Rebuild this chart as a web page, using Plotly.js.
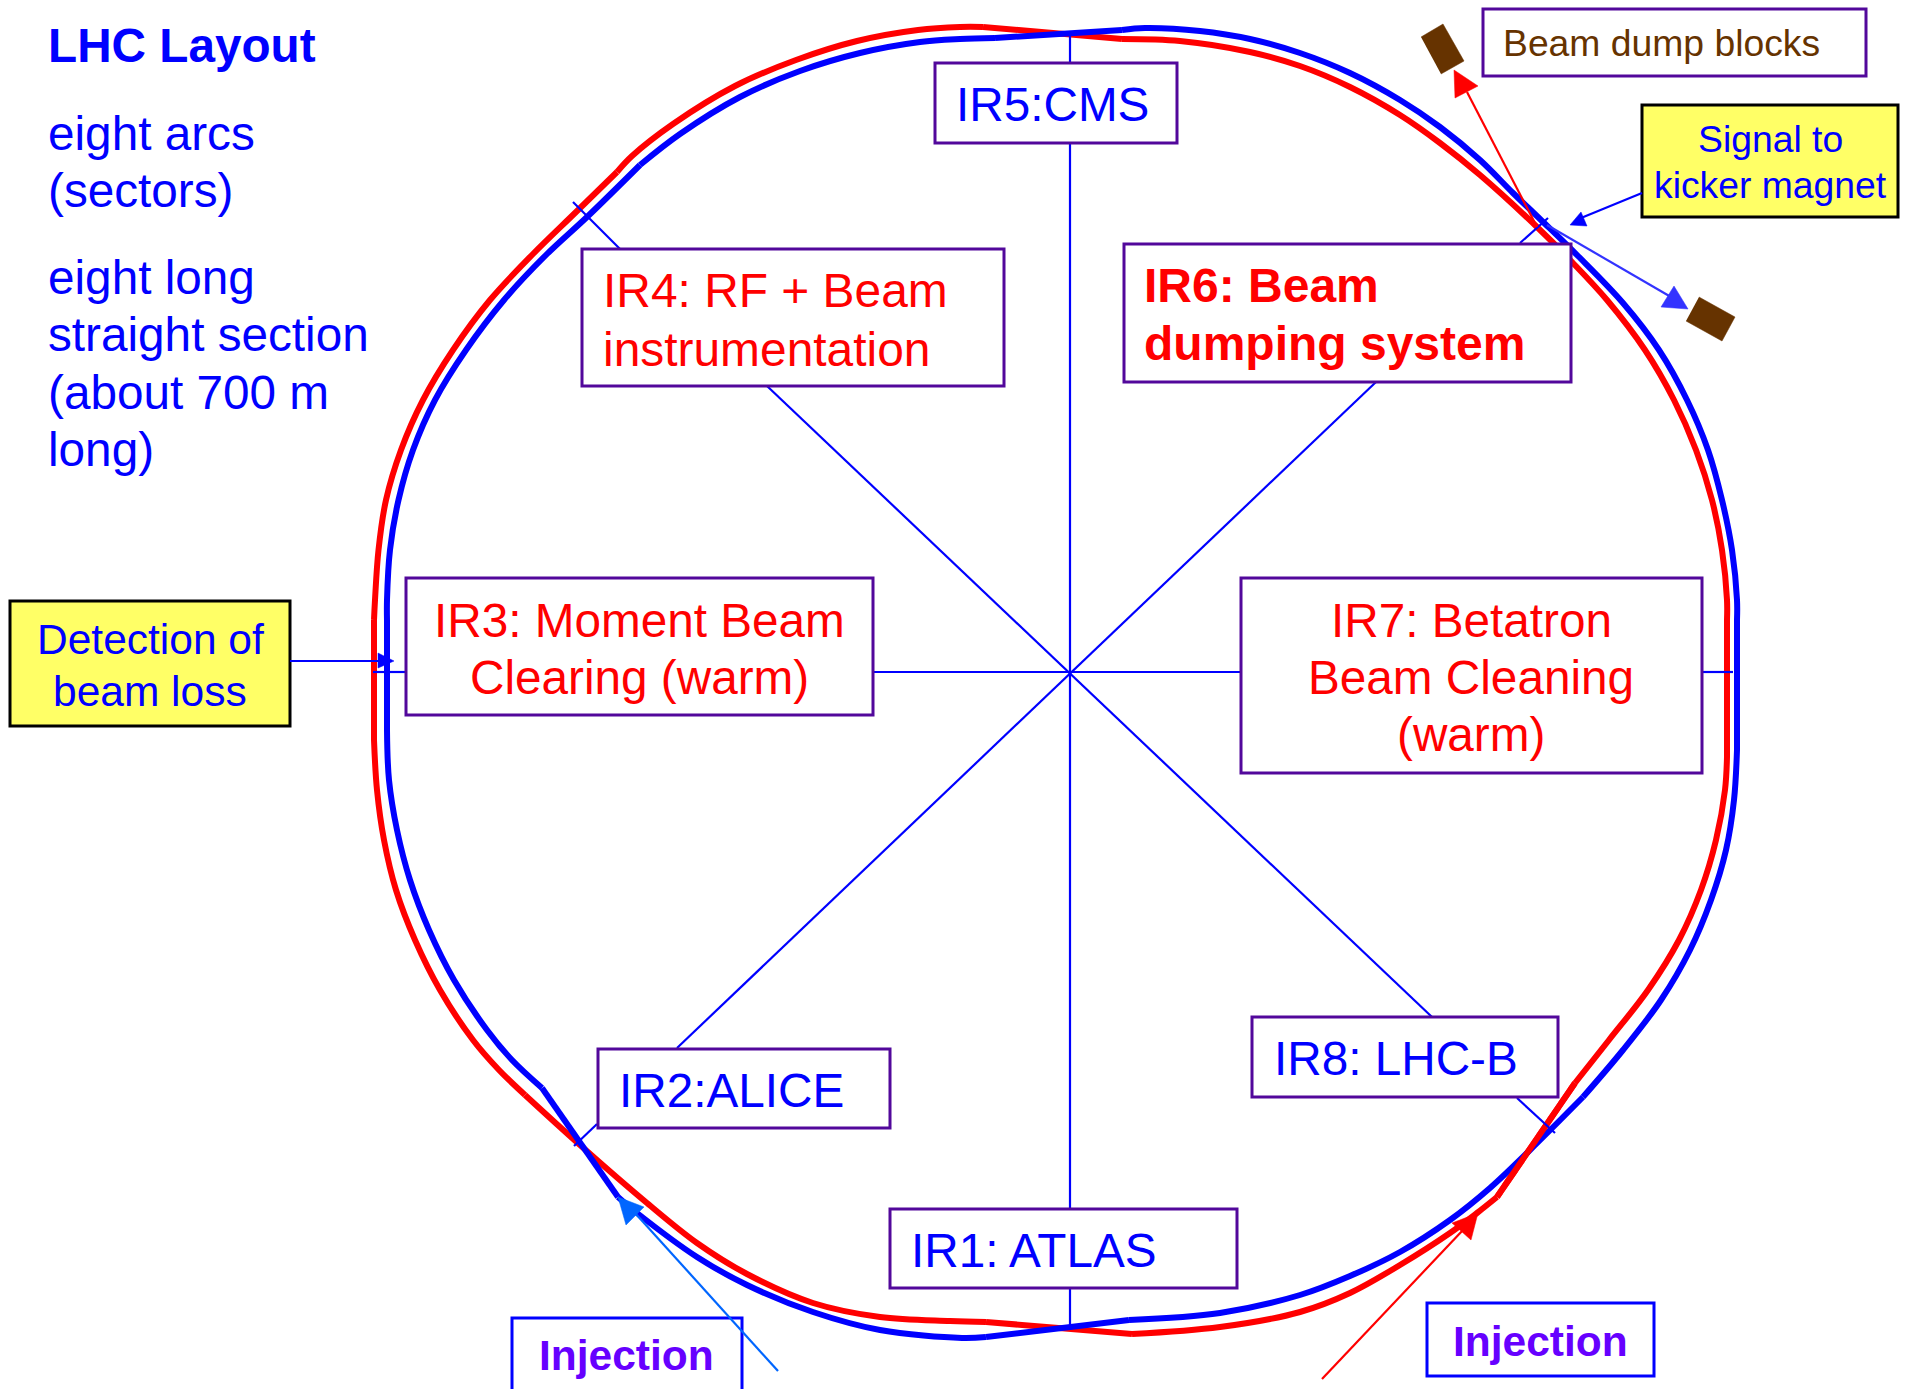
<!DOCTYPE html>
<html>
<head>
<meta charset="utf-8">
<script src="https://cdn.plot.ly/plotly-3.0.1.min.js"></script>
<style>html,body{margin:0;padding:0;background:#fff}#chart{width:1909px;height:1389px}</style>
</head>
<body>
<div id="chart"></div>
<script>
// Beam rings. null = a kink in the drawn path.
const blueRingX = [1122,1145,1200,1250,1300,1350,1400,1440,1480,1513,1540,1578,1623,1659,1687,1708,1722,1732,1737,1737,null,
  1737,1737,null,
  1737,1734,1726,1711,1690,1661,1623,1583,null,
  1583,1530,1490,1450,1400,1350,1300,1220,1129,null,
  1129,986,null,
  986,962,880,813,747,697,637,618,null,
  618,542,null,
  542,512,487,454,429,410,397,389,387,null,
  387,387,null,
  387,387,390,398.5,413,435,466,504,546,587,640,null,
  640,680,740,800,860,920,960,995,null,
  995,1122];
const blueRingY = [30,28,31,39,53,73,100,127,160,193,219,256,303,350,400,450,500,550,600,620,null,
  620,750,null,
  750,800,850,900,950,1000,1050,1097,null,
  1097,1150,1188,1220,1252,1276,1295,1313,1320,null,
  1320,1337,null,
  1337,1338,1330,1312,1285,1257,1213,1197,null,
  1197,1088,null,
  1088,1060,1030,980,930,880,830,780,730,null,
  730,620,null,
  620,600,550,500,450,400,350,300,255,217,165,null,
  165,134,97,71,53,42,39,38,null,
  38,30];
const redRingX = [1122,1180,1250,1300,1350,1400,1440,1480,1537,1572,1607,1645,1674,1696,1712,1722,1727,1727,null,
  1727,1727,null,
  1727,1725,1716,1701,1679,1648,1609,1575,null,
  1575,1497,null,
  1497,1477,1450,1400,1350,1300,1220,1132,null,
  1132,986,null,
  986,950,880,813,747,697,647,580,525,null,
  525,499,473,440,415,396,384,377,374,null,
  374,374,null,
  374,375,378.5,386,401,423,453,490,532,575,617,null,
  617,632,673,735,796,857,918,960,983,null,
  983,1122];
const redRingY = [39,41,52,66,87,115,143,175,227,262,300,350,400,450,500,550,600,620,null,
  620,757,null,
  757,790,840,890,940,990,1040,1083,null,
  1083,1197,null,
  1197,1213,1233,1265,1293,1312,1327,1334,null,
  1334,1322,null,
  1322,1321,1317,1303,1274,1243,1203,1145,1095,null,
  1095,1070,1040,990,940,890,840,790,740,null,
  740,620,null,
  620,600,550,500,450,400,350,300,255,213,172,null,
  172,156,124,86,60,41,30,27,27,null,
  27,39];
const redOverX = [1575,1497];
const redOverY = [1083,1197];

// Spokes from the centre of the ring out to each interaction region
const spokeX = [1070,1070,null,1070,1070,null,1070,1070,null,373,405,null,873,1241,null,1702,1733,null,
  573,620,null,767,1432,null,1520,1548,null,1376,677,null,597,574,null,1517,1555];
const spokeY = [34,63,null,143,1209,null,1288,1330,null,672,672,null,672,672,null,672,672,null,
  202,249,null,386,1017,null,243,218,null,382,1048,null,1124,1146,null,1098,1133];

// Arrow shafts and heads
const arrowNames   = ['dumpRed','dumpBlue','signal','detect','injBlue','injRed'];
const arrowColors  = ['#FF0000','#3333FF','#0000FF','#0000FF','#0066FF','#FF0000'];
const shaftX = [[1537,1467],[1547,1671],[1642,1581],[290,380],[778,635],[1322,1463]];
const shaftY = [[227,92],[225,297],[193,218],[661,661],[1371,1213],[1379,1230]];
const headX  = [[1454,1478,1455],[1688,1674,1661],[1570,1581,1587],[394,378,378],[618,644,626],[1478,1452,1471]];
const headY  = [[70,86,98],[309,286,307],[225,212,226],[661,653,668],[1197,1207,1225],[1213,1223,1240]];

// Brown beam dump blocks
const dumpBlockX = [[1421,1443,1464,1441],[1699,1735,1722,1686]];
const dumpBlockY = [[37,24,61,74],[297,317,341,321]];

// Boxes
const boxLeft   = [935,1483,1124,582,406,1241,598,1252,890,512,1427,1642,10];
const boxRight  = [1177,1866,1571,1004,873,1702,890,1558,1237,742,1654,1898,290];
const boxTop    = [63,9,244,249,578,578,1049,1017,1209,1318,1303,105,601];
const boxBottom = [143,76,382,386,715,773,1128,1097,1288,1420,1376,217,726];
const boxLine   = ['#52089B','#52089B','#52089B','#52089B','#52089B','#52089B','#52089B','#52089B','#52089B','#0000FF','#0000FF','#000000','#000000'];
const boxFill   = ['#FFFFFF','#FFFFFF','#FFFFFF','#FFFFFF','#FFFFFF','#FFFFFF','#FFFFFF','#FFFFFF','#FFFFFF','rgba(0,0,0,0)','#FFFFFF','#FFFF66','#FFFF66'];

// Text lines
const labelText = ['<b>LHC Layout</b>','eight arcs','(sectors)','eight long','straight section','(about 700 m','long)',
  'IR5:CMS','Beam dump blocks','Signal to','kicker magnet',
  '<b>IR6: Beam</b>','<b>dumping system</b>','IR4: RF + Beam','instrumentation',
  'IR3: Moment Beam','Clearing (warm)','IR7: Betatron','Beam Cleaning','(warm)',
  'Detection of','beam loss','IR2:ALICE','IR8: LHC-B','IR1: ATLAS','<b>Injection</b>','<b>Injection</b>'];
const labelX = [47.5,47.5,47.5,47.5,47.5,47.5,47.5,956,1503,1770,1770,1144,1144,603,603,639,639,1471,1471,1471,150,150,619,1274,911,626.5,1540];
const labelY = [45,133,190,277,334,392,449,104,43,139,185,285,343,290,349,620,677,620,677,734,639,691,1090,1058,1250,1355,1341];
const labelAnchor = ['left','left','left','left','left','left','left','left','left','center','center','left','left','left','left',
  'center','center','center','center','center','center','center','left','left','left','center','center'];
const labelSize = [47.7,47.7,47.7,47.7,47.7,47.7,47.7,47.7,37.3,37.3,37.3,48,48,47.9,47.9,47.7,47.7,47.7,47.7,47.7,42.5,42.5,47.7,47.7,47.7,42.5,42.5];
const labelColor = ['#0000FF','#0000FF','#0000FF','#0000FF','#0000FF','#0000FF','#0000FF','#0000FF','#663300','#0000FF','#0000FF',
  '#FF0000','#FF0000','#FF0000','#FF0000','#FF0000','#FF0000','#FF0000','#FF0000','#FF0000','#0000FF','#0000FF',
  '#0000FF','#0000FF','#0000FF','#6600FF','#6600FF'];

const FONT = '"Liberation Sans", Arial, Helvetica, sans-serif';

function line(x, y, color, width, shape) {
  return {x, y, type:'scatter', mode:'lines', hoverinfo:'skip', showlegend:false, connectgaps:false,
    line:{color, width, shape:shape||'linear', smoothing:1, simplify:false}};
}
function poly(x, y, color) {
  return {x, y, type:'scatter', mode:'lines', fill:'toself', fillcolor:color, hoverinfo:'skip', showlegend:false,
    line:{color, width:0.5}};
}

const traces = [
  line(redRingX, redRingY, '#FF0000', 6, 'spline'),
  line(blueRingX, blueRingY, '#0000FF', 6, 'spline'),
  line(redOverX, redOverY, '#FF0000', 6),
  line(spokeX, spokeY, '#0000FF', 2.2),
];
dumpBlockX.forEach((x,i)=>traces.push(poly(x, dumpBlockY[i], '#663300')));

const shapes = boxLeft.map((l,i)=>({
  type:'rect', xref:'x', yref:'y', layer:'above',
  x0:l, x1:boxRight[i], y0:boxTop[i], y1:boxBottom[i],
  line:{color:boxLine[i], width:3}, fillcolor:boxFill[i]
}));

// Arrow heads and shafts sit above the boxes where they cross them.
arrowNames.forEach((n,i)=>{
  shapes.push({type:'line', xref:'x', yref:'y', layer:'above',
    x0:shaftX[i][0], x1:shaftX[i][1], y0:shaftY[i][0], y1:shaftY[i][1],
    line:{color:arrowColors[i], width:2.2}});
  const pts = headX[i].map((hx,j)=>(j?'L':'M')+hx+','+headY[i][j]).join(' ')+' Z';
  shapes.push({type:'path', xref:'x', yref:'y', layer:'above', path:pts,
    fillcolor:arrowColors[i], line:{color:arrowColors[i], width:0.5}});
});

const annotations = labelText.map((t,i)=>({
  text:t, x:labelX[i], y:labelY[i], xref:'x', yref:'y', showarrow:false,
  xanchor:labelAnchor[i], yanchor:'middle', align:labelAnchor[i],
  borderpad:0, borderwidth:0,
  font:{family:FONT, size:labelSize[i], color:labelColor[i]}
}));

const layout = {
  width:1909, height:1389,
  margin:{l:0,r:0,t:0,b:0,pad:0},
  paper_bgcolor:'#FFFFFF', plot_bgcolor:'#FFFFFF',
  showlegend:false,
  xaxis:{range:[0,1909], visible:false, fixedrange:true},
  yaxis:{range:[1389,0], visible:false, fixedrange:true},
  shapes, annotations
};
Plotly.newPlot('chart', traces, layout, {displayModeBar:false, staticPlot:true});
</script>
</body>
</html>
